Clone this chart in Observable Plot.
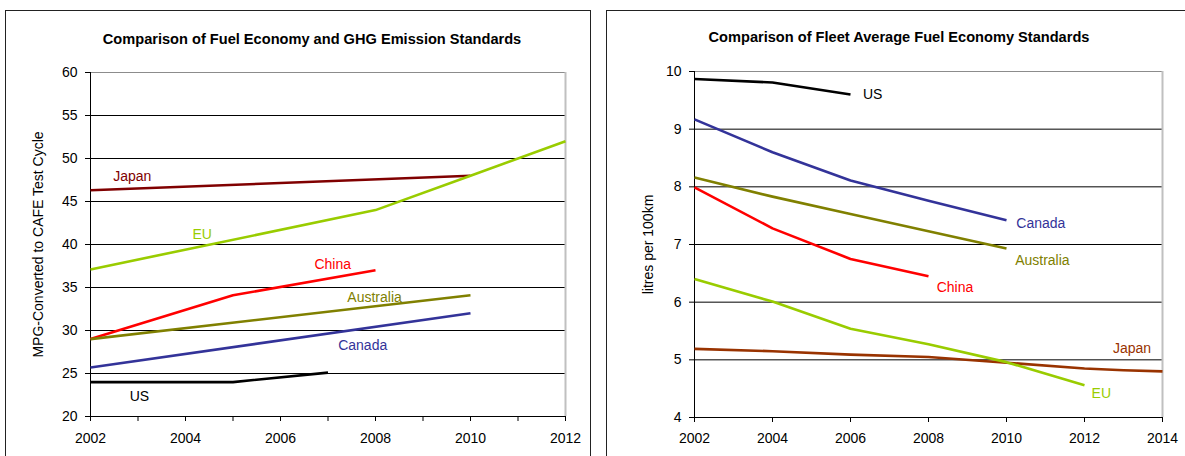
<!DOCTYPE html>
<html>
<head>
<meta charset="utf-8">
<script src="https://cdn.jsdelivr.net/npm/d3@7"></script>
<script src="https://cdn.jsdelivr.net/npm/@observablehq/plot@0.6"></script>
<style>
  body { margin: 0; background: #fff; font-family: "Liberation Sans", Arial, sans-serif; }
  #root { position: relative; width: 1185px; height: 456px; overflow: hidden; background: #fff; }
  .panel { position: absolute; border: 1.5px solid #222; box-sizing: border-box; }
  .title { position: absolute; font-weight: bold; font-size: 14.6px; line-height: 17px; white-space: nowrap; transform: translateX(-50%); color: #000; }
  .chart { position: absolute; }
</style>
</head>
<body>
<div id="root">
  <div class="panel" style="left:5px;top:10px;width:586px;height:470px"></div>
  <div class="panel" style="left:606px;top:10px;width:620px;height:470px"></div>
  <div class="title" style="left:312px;top:31px">Comparison of Fuel Economy and GHG Emission Standards</div>
  <div class="title" style="left:899px;top:29px">Comparison of Fleet Average Fuel Economy Standards</div>
  <div class="chart" id="left" style="left:0;top:50px"></div>
  <div class="chart" id="right" style="left:600px;top:50px"></div>
</div>
<script>
// Countries and their line colours
const countries = ["Japan", "EU", "China", "Australia", "Canada", "US"];
const mpgColors = ["#800000", "#99cc00", "#ff0000", "#808000", "#333399", "#000000"];
const lkmColors = ["#993300", "#99cc00", "#ff0000", "#808000", "#333399", "#000000"];

// Left chart: MPG converted to CAFE test cycle (null = no standard that year)
const mpgYears     = [2002, 2005, 2007, 2008, 2010, 2012];
const mpgJapan     = [46.3, null, null, null, 48.0, null];
const mpgEU        = [37.1, null, null, 44.0, 48.0, 52.0];
const mpgChina     = [29.0, 34.1, null, 37.0, null, null];
const mpgAustralia = [29.0, null, null, null, 34.1, null];
const mpgCanada    = [25.7, null, null, null, 32.0, null];
const mpgUS        = [24.0, 24.0, 25.1, null, null, null];
const mpgYTicks    = [20, 25, 30, 35, 40, 45, 50, 55, 60];
const mpgXTicks    = [2002, 2003, 2004, 2005, 2006, 2007, 2008, 2009, 2010, 2011, 2012];
// Where each series name sits (year, mpg)
const mpgLabelYears  = [2002.88, 2004.35, 2007.1, 2007.98, 2007.73, 2003.03];
const mpgLabelValues = [47.9, 41.15, 37.65, 33.85, 28.25, 22.35];

// Right chart: litres per 100 km
const lkmYears     = [2002, 2004, 2006, 2008, 2010, 2012, 2013, 2014];
const lkmJapan     = [5.19, 5.15, 5.09, 5.05, 4.95, 4.85, 4.82, 4.80];
const lkmEU        = [6.40, 6.01, 5.54, 5.27, 4.96, 4.56, null, null];
const lkmChina     = [7.99, 7.28, 6.75, 6.45, null, null, null, null];
const lkmAustralia = [8.16, 7.83, 7.53, 7.23, 6.93, null, null, null];
const lkmCanada    = [9.17, 8.60, 8.11, 7.76, 7.42, null, null, null];
const lkmUS        = [9.87, 9.81, 9.60, null, null, null, null, null];
const lkmYTicks    = [4, 5, 6, 7, 8, 9, 10];
const lkmXTicks    = [2002, 2004, 2006, 2008, 2010, 2012, 2014];
const lkmLabelYears  = [2013.22, 2012.43, 2008.68, 2010.92, 2010.88, 2006.57];
const lkmLabelValues = [5.19, 4.41, 6.26, 6.73, 7.37, 9.60];

function toRows(years, seriesList) {
  const rows = [];
  seriesList.forEach((values, i) => {
    values.forEach((v, j) => {
      if (v != null) rows.push({country: countries[i], year: years[j], value: v});
    });
  });
  return rows;
}
function labelRows(ys, vs) {
  return countries.map((c, i) => ({country: c, year: ys[i], value: vs[i]}));
}

function chart({rows, labels, colors, xTicks, yTicks, width, height, margins, yLabel, yLabelX, xTickFormat, xPad}) {
  const [x0, x1] = d3.extent(xTicks);
  const [y0, y1] = d3.extent(yTicks);
  return Plot.plot({
    width, height,
    marginLeft: margins[0], marginRight: margins[1], marginTop: margins[2], marginBottom: margins[3],
    style: {fontFamily: "'Liberation Sans', Arial, sans-serif", fontSize: "14px", background: "transparent", color: "#000"},
    x: {domain: [x0, x1]},
    y: {domain: [y0, y1]},
    color: {domain: countries, range: colors},
    marks: [
      Plot.ruleY(yTicks.filter(t => t !== y1 && t !== y0), {stroke: "#000", strokeWidth: 1}),
      Plot.ruleY([y1], {stroke: "#8c8c8c", strokeWidth: 1}),
      Plot.ruleX([x1], {stroke: "#c0c0c0", strokeWidth: 2}),
      Plot.ruleX([x0], {stroke: "#000", strokeWidth: 1}),
      Plot.ruleY([y0], {stroke: "#000", strokeWidth: 1}),
      Plot.axisY({ticks: yTicks, tickSize: 5, tickPadding: 8, label: null, fontSize: 14, tickFormat: d => String(d)}),
      Plot.axisX({ticks: xTicks, tickSize: 5, tickPadding: xPad, label: null, fontSize: 14, tickFormat: xTickFormat}),
      Plot.line(rows, {x: "year", y: "value", z: "country", stroke: "country", strokeWidth: 2.6, strokeLinejoin: "round", strokeLinecap: "butt"}),
      Plot.text(labels, {x: "year", y: "value", text: "country", fill: "country", fontSize: 14}),
      Plot.text([yLabel], {frameAnchor: "left", dx: -(margins[0] - yLabelX), rotate: -90, textAnchor: "middle", text: d => d, fontSize: 14, fill: "#000"})
    ]
  });
}

document.getElementById("left").append(chart({
  rows: toRows(mpgYears, [mpgJapan, mpgEU, mpgChina, mpgAustralia, mpgCanada, mpgUS]),
  labels: labelRows(mpgLabelYears, mpgLabelValues),
  colors: mpgColors,
  xTicks: mpgXTicks, yTicks: mpgYTicks,
  width: 592, height: 406, margins: [90, 27, 22, 40],
  yLabel: "MPG-Converted to CAFE Test Cycle", yLabelX: 38,
  xTickFormat: d => (d % 2 ? "" : String(d)),
  xPad: 12
}));

document.getElementById("right").append(chart({
  rows: toRows(lkmYears, [lkmJapan, lkmEU, lkmChina, lkmAustralia, lkmCanada, lkmUS]),
  labels: labelRows(lkmLabelYears, lkmLabelValues),
  colors: lkmColors,
  xTicks: lkmXTicks, yTicks: lkmYTicks,
  width: 585, height: 406, margins: [94, 23, 21, 39],
  yLabel: "litres per 100km", yLabelX: 48,
  xTickFormat: d => String(d),
  xPad: 11
}));
</script>
</body>
</html>
